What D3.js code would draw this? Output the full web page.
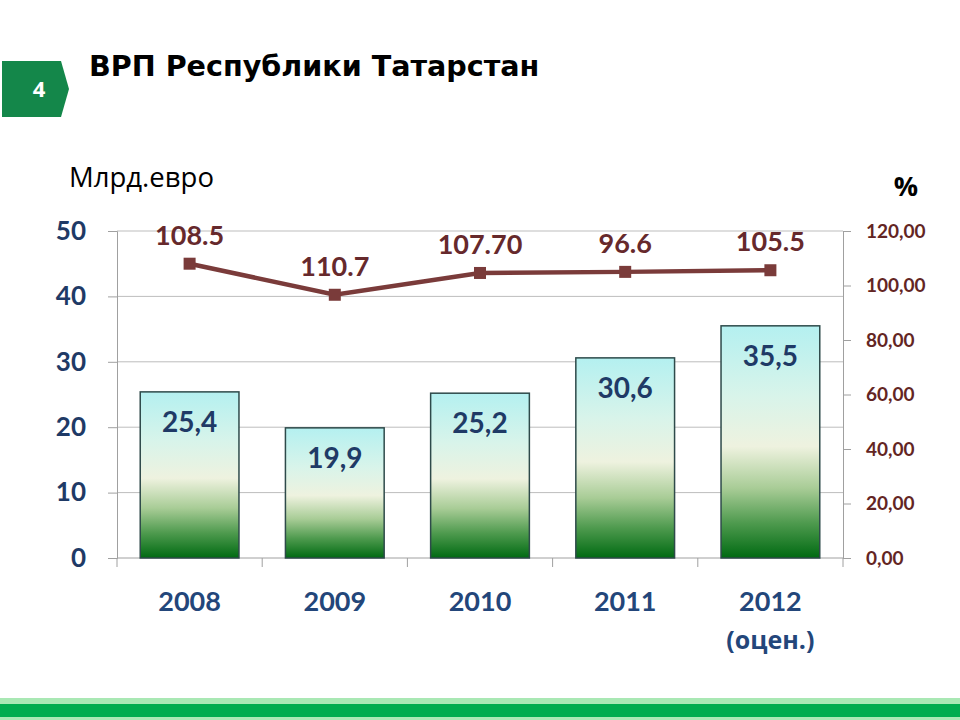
<!DOCTYPE html>
<html><head><meta charset="utf-8">
<script src="https://cdn.jsdelivr.net/npm/d3@7"></script>
<style>body{margin:0;background:#fff}svg{display:block}</style>
</head><body>
<svg id="c" width="960" height="720"></svg>
<script>
const years = ["2008", "2009", "2010", "2011", "2012"];
const yearSub = ["", "", "", "", "(оцен.)"];
const gdp = [25.4, 19.9, 25.2, 30.6, 35.5];
const gdpLabels = ["25,4", "19,9", "25,2", "30,6", "35,5"];
const growth = [108.0, 96.6, 104.6, 105.0, 105.6];
const growthLabels = ["108.5", "110.7", "107.70", "96.6", "105.5"];
const leftTicks = [0, 10, 20, 30, 40, 50];
const rightTicks = [0, 20, 40, 60, 80, 100, 120];

const svg = d3.select("#c");
const W = 960, H = 720;
const m = {l: 117, r: 843, t: 231, b: 558};

const numFont = "Lato, 'Open Sans', sans-serif";
const cyrFont = "'Open Sans', 'Noto Sans', sans-serif";

// bottom stripe
svg.append("rect").attr("x",0).attr("y",698).attr("width",W).attr("height",22).attr("fill","#A9E8B4");
svg.append("rect").attr("x",0).attr("y",704).attr("width",W).attr("height",13).attr("fill","#00AC4E");

// badge
svg.append("path").attr("d","M2,61 L61,61 L69,89 L61,117 L2,117 Z").attr("fill","#14874A");
svg.append("text").attr("x",39).attr("y",97).attr("text-anchor","middle").attr("fill","#fff")
  .attr("font-family",cyrFont).attr("font-weight","bold").attr("font-size",22).text("4");

// title
svg.append("text").attr("x",89).attr("y",76).attr("fill","#000")
  .attr("font-family","'DejaVu Sans', sans-serif").attr("font-weight","bold").attr("font-size",28.6)
  .text("ВРП Республики Татарстан");

svg.append("text").attr("x",69).attr("y",187).attr("fill","#000")
  .attr("font-family",cyrFont).attr("font-size",27.5).text("Млрд.евро");
svg.append("text").attr("x",906).attr("y",196).attr("text-anchor","middle").attr("fill","#000")
  .attr("font-family",cyrFont).attr("font-weight","bold").attr("font-size",27).text("%");

const x = d3.scaleBand().domain(years).range([m.l, m.r]).paddingInner(0.32).paddingOuter(0.16);
const xc = d3.scalePoint().domain(years).range([m.l, m.r]).padding(0.5);
const yL = d3.scaleLinear().domain([0, 50]).range([m.b, m.t]);
const yR = d3.scaleLinear().domain([0, 120]).range([m.b, m.t]);

// gradient
const defs = svg.append("defs");
const g = defs.append("linearGradient").attr("id","bar").attr("x1",0).attr("y1",0).attr("x2",0).attr("y2",1);
[[0,"#B4F0F0"],[0.3,"#D8F4EA"],[0.52,"#EEF2DF"],[0.7,"#A8CC96"],[0.85,"#4E9A4E"],[1,"#006A12"]]
  .forEach(([o,c]) => g.append("stop").attr("offset",o).attr("stop-color",c));

// gridlines
svg.append("g").selectAll("line").data(leftTicks.slice(1)).join("line")
  .attr("x1",m.l).attr("x2",m.r).attr("y1",d=>yL(d)).attr("y2",d=>yL(d))
  .attr("stroke","#BDBDBD").attr("stroke-width",1);

// left axis
const axL = svg.append("g").attr("transform",`translate(${m.l},0)`)
  .call(d3.axisLeft(yL).tickValues(leftTicks).tickSize(9).tickPadding(22).tickFormat(d3.format("d")));
axL.select(".domain").attr("stroke","#A0A0A0");
axL.selectAll(".tick line").attr("stroke","#A0A0A0");
axL.selectAll("text").attr("fill","#1F3A66").attr("font-family",numFont).attr("font-weight","bold").attr("font-size",26);

// right axis
const axR = svg.append("g").attr("transform",`translate(${m.r},0)`)
  .call(d3.axisRight(yR).tickValues(rightTicks).tickSize(8).tickPadding(15).tickFormat(d => d3.format(".2f")(d).replace(".", ",")));
axR.select(".domain").attr("stroke","#A0A0A0");
axR.selectAll(".tick line").attr("stroke","#A0A0A0");
axR.selectAll("text").attr("fill","#632523").attr("font-family",numFont).attr("font-weight","bold").attr("font-size",19);

// bottom axis line & ticks
svg.append("line").attr("x1",m.l).attr("x2",m.r).attr("y1",m.b).attr("y2",m.b).attr("stroke","#A0A0A0");
const bounds = years.map((d,i)=> m.l + i*(m.r-m.l)/years.length).concat([m.r]);
svg.append("g").selectAll("line").data(bounds).join("line")
  .attr("x1",d=>d).attr("x2",d=>d).attr("y1",m.b).attr("y2",m.b+9).attr("stroke","#A0A0A0");

// bars
svg.append("g").selectAll("rect").data(gdp).join("rect")
  .attr("x",(d,i)=>x(years[i])).attr("width",x.bandwidth())
  .attr("y",d=>yL(d)).attr("height",d=>m.b-yL(d))
  .attr("fill","url(#bar)").attr("stroke","#2E4A4A").attr("stroke-width",1.5);

svg.append("g").selectAll("text").data(gdp).join("text")
  .attr("x",(d,i)=>xc(years[i])).attr("y",d=>yL(d)+40)
  .attr("text-anchor","middle").attr("fill","#1F3A66")
  .attr("font-family",numFont).attr("font-weight","bold").attr("font-size",28)
  .text((d,i)=>gdpLabels[i]);

// year labels
svg.append("g").selectAll("text").data(years).join("text")
  .attr("x",d=>xc(d)).attr("y",611).attr("text-anchor","middle").attr("fill","#23467A")
  .attr("font-family",numFont).attr("font-weight","bold").attr("font-size",27).text(d=>d);
svg.append("g").selectAll("text").data(yearSub).join("text")
  .attr("x",(d,i)=>xc(years[i])).attr("y",649).attr("text-anchor","middle").attr("fill","#23467A")
  .attr("font-family",cyrFont).attr("font-weight","bold").attr("font-size",25).text(d=>d);

// line
const line = d3.line().x((d,i)=>xc(years[i])).y(d=>yR(d));
svg.append("path").datum(growth).attr("d",line).attr("fill","none")
  .attr("stroke","#7A3B3A").attr("stroke-width",4.5);
svg.append("g").selectAll("rect").data(growth).join("rect")
  .attr("x",(d,i)=>xc(years[i])-6).attr("y",d=>yR(d)-6).attr("width",12).attr("height",12)
  .attr("fill","#7A3B3A");
svg.append("g").selectAll("text").data(growth).join("text")
  .attr("x",(d,i)=>xc(years[i])).attr("y",d=>yR(d)-19)
  .attr("text-anchor","middle").attr("fill","#66292C")
  .attr("font-family",numFont).attr("font-weight","bold").attr("font-size",27)
  .text((d,i)=>growthLabels[i]);
</script>
</body></html>
